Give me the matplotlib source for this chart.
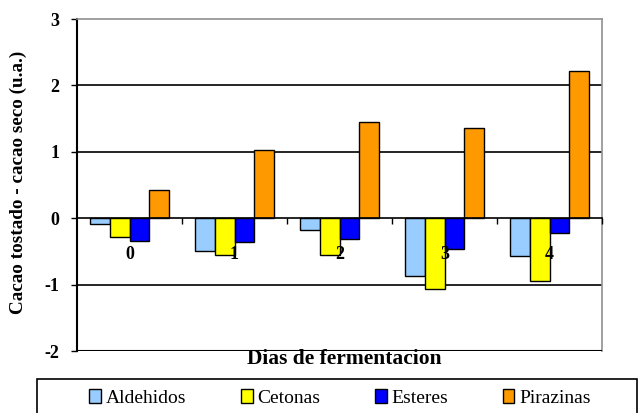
import matplotlib.pyplot as plt
from matplotlib.patches import Rectangle
import numpy as np

# data
dias = ['0', '1', '2', '3', '4']
aldehidos = [-0.08, -0.49, -0.18, -0.87, -0.57]
cetonas = [-0.28, -0.56, -0.56, -1.07, -0.94]
esteres = [-0.34, -0.36, -0.31, -0.47, -0.23]
pirazinas = [0.42, 1.02, 1.45, 1.36, 2.22]

series = [('Aldehidos', aldehidos, '#99CCFF'),
          ('Cetonas', cetonas, '#FFFF00'),
          ('Esteres', esteres, '#0000FF'),
          ('Pirazinas', pirazinas, '#FF9900')]

plt.rcParams['font.family'] = ['Liberation Serif', 'DejaVu Serif']

fig = plt.figure(figsize=(6.38, 4.13), dpi=100)
ax = fig.add_axes([77 / 638, 1 - 351 / 413, 525 / 638, 332 / 413])

x = np.arange(len(dias))
w = 0.186
handles = []
for i, (name, vals, col) in enumerate(series):
    b = ax.bar(x + (i - 1.5) * w, vals, w, color=col, edgecolor='black',
               linewidth=1.0, label=name, zorder=3)
    handles.append(b)

ax.set_xlim(-0.5, 4.5)
ax.set_ylim(-2, 3)
ax.set_yticks([-2, -1, 0, 1, 2, 3])
ax.set_yticklabels(['-2', '-1', '0', '1', '2', '3'], fontsize=13, fontweight='bold')
ax.tick_params(axis='y', direction='out', length=4.5, width=1, pad=8)

# gridlines
for yv in [-1, 1, 2]:
    ax.axhline(yv, color='black', linewidth=1.2, zorder=1)
ax.axhline(-2, color='black', linewidth=1.5, zorder=4)

# category axis sits on zero
ax.spines['bottom'].set_position(('data', 0))
ax.spines['bottom'].set_linewidth(1.2)
ax.spines['bottom'].set_zorder(4)
ax.spines['left'].set_linewidth(1.5)
for s in ['top', 'right']:
    ax.spines[s].set_color('#909090')
    ax.spines[s].set_linewidth(1.2)

ax.set_xticks(x)
ax.set_xticklabels(dias, fontsize=13, fontweight='bold')
ax.tick_params(axis='x', which='major', length=0, pad=20)
ax.set_xticks(np.arange(0.5, 5.0, 1.0), minor=True)
ax.tick_params(axis='x', which='minor', direction='out', length=4.5, width=1)
ax.xaxis.set_zorder(5)

fig.text(18 / 638, 1 - 182 / 413, 'Cacao tostado - cacao seco (u.a.)',
         rotation=90, ha='center', va='center', fontsize=13.8, fontweight='bold')
fig.text(344 / 638, 1 - 359 / 413, 'Dias de fermentacion',
         ha='center', va='center', fontsize=15.5, fontweight='bold')

# legend box, partly cut off at the bottom like the reference
fig.patches.append(Rectangle((37 / 638, -0.05), 600 / 638, 1 - 379 / 413 + 0.05,
                             transform=fig.transFigure, fill=False,
                             edgecolor='black', linewidth=1.2))
leg = fig.legend(handles=handles, loc='upper center', ncol=4,
                 bbox_to_anchor=(340 / 638, 1 - 379 / 413),
                 bbox_transform=fig.transFigure, frameon=False,
                 fontsize=14, handlelength=0.6, handleheight=0.75,
                 handletextpad=0.25, columnspacing=2.8, borderpad=0.5,
                 borderaxespad=0)

fig.savefig('out.png', dpi=100)
